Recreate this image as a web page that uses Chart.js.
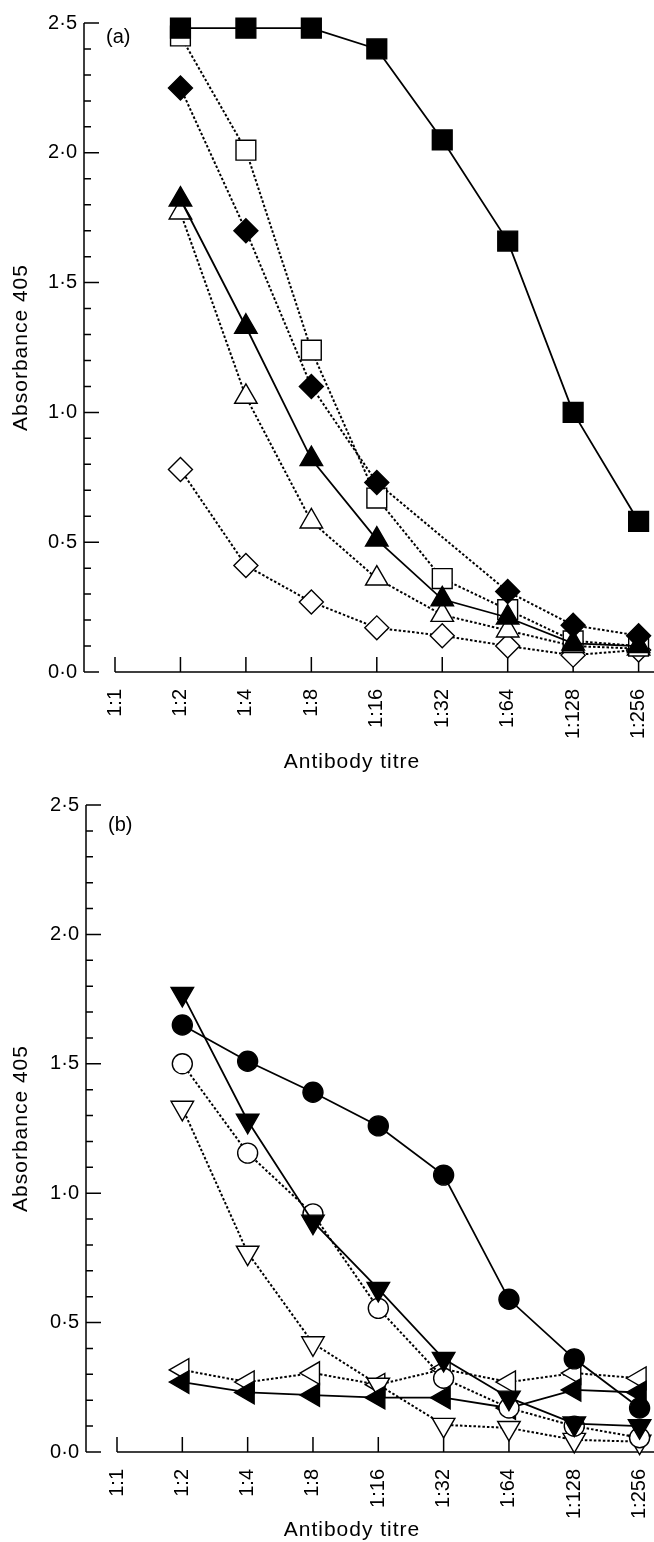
<!DOCTYPE html>
<html>
<head>
<meta charset="utf-8">
<script src="https://cdn.jsdelivr.net/npm/chart.js@4/dist/chart.umd.min.js"></script>
<style>
  body { margin: 0; background: #fff; }
  canvas { display: block; }
</style>
</head>
<body>
<canvas id="chartA" width="654" height="782"></canvas>
<canvas id="chartB" width="654" height="760"></canvas>
<script>
// categories (antibody dilution)
const titres = ['1:1', '1:2', '1:4', '1:8', '1:16', '1:32', '1:64', '1:128', '1:256'];

// panel (a)
const aFilledSquare   = [null, 2.48, 2.48, 2.48, 2.40, 2.05, 1.66, 1.00, 0.58];
const aFilledDiamond  = [null, 2.25, 1.70, 1.10, 0.73, null, 0.31, 0.18, 0.14];
const aFilledTriangle = [null, 1.82, 1.33, 0.82, 0.51, 0.28, 0.21, 0.11, 0.10];
const aOpenSquare     = [null, 2.45, 2.01, 1.24, 0.67, 0.36, 0.24, 0.12, 0.10];
const aOpenTriangle   = [null, 1.77, 1.06, 0.58, 0.36, 0.22, 0.16, 0.10, 0.09];
const aOpenDiamond    = [null, 0.78, 0.41, 0.27, 0.17, 0.14, 0.10, 0.065, 0.085];

// panel (b)
const bFilledCircle = [null, 1.65, 1.51, 1.39, 1.26, 1.07, 0.59, 0.36, 0.17];
const bFilledDown   = [null, 1.77, 1.28, 0.89, 0.63, 0.36, 0.21, 0.11, 0.10];
const bOpenCircle   = [null, 1.50, 1.155, 0.92, 0.555, 0.285, 0.17, 0.10, 0.055];
const bFilledLeft   = [null, 0.27, 0.23, 0.22, 0.21, 0.21, 0.17, 0.24, 0.23];
const bOpenDown     = [null, 1.33, 0.77, 0.42, 0.26, 0.105, 0.093, 0.047, 0.04];
const bOpenLeft     = [null, 0.317, 0.27, 0.305, 0.26, 0.32, 0.27, 0.305, 0.285];

const yLabel = 'Absorbance 405';
const xLabel = 'Antibody titre';

const FONT = '"Liberation Sans", Arial, sans-serif';
Chart.defaults.font.family = FONT;
Chart.defaults.color = '#000';

// marker look: shape, size, filled or open, solid or dotted line
function series(data, shape, filled, solid) {
    const radius = { rect: 14, rectRot: 12, triangle: 13, circle: 10 };
    let style = shape, rotation = 0;
    if (shape === 'down') { style = 'triangle'; rotation = 180; }
    if (shape === 'left') { style = 'triangle'; rotation = 270; }
    return {
        data: data,
        spanGaps: true,
        borderColor: '#000',
        borderWidth: solid ? 1.8 : 2,
        borderDash: solid ? [] : [2.5, 2],
        pointStyle: style,
        pointRotation: rotation,
        pointRadius: radius[style],
        pointHoverRadius: radius[style],
        pointBackgroundColor: filled ? '#000' : '#fff',
        pointBorderColor: '#000',
        pointBorderWidth: 1.4,
        fill: false,
        tension: 0,
        clip: false
    };
}

// axes drawn in the journal style: y axis detached from x axis, inward ticks
const figureAxes = {
    id: 'figureAxes',
    beforeDatasetsDraw(chart, args, opts) {
        const ctx = chart.ctx;
        const x = chart.scales.x, y = chart.scales.y;
        const axisX = chart.chartArea.left - 31;
        const y0 = y.getPixelForValue(0);
        const yTop = y.getPixelForValue(2.5);
        ctx.save();
        ctx.strokeStyle = '#000';
        ctx.lineWidth = 1.5;
        ctx.beginPath();
        ctx.moveTo(axisX, yTop);
        ctx.lineTo(axisX, y0);
        for (let i = 0; i <= 25; i++) {
            const py = y.getPixelForValue(i / 10);
            ctx.moveTo(axisX, py);
            ctx.lineTo(axisX + (i % 5 === 0 ? 15 : 7), py);
        }
        ctx.moveTo(x.getPixelForValue(0), y0);
        ctx.lineTo(chart.width, y0);
        titres.forEach((t, i) => {
            const px = x.getPixelForValue(i);
            ctx.moveTo(px, y0);
            ctx.lineTo(px, y0 - 15);
        });
        ctx.stroke();

        ctx.fillStyle = '#000';
        ctx.textBaseline = 'middle';
        ctx.font = '20px ' + FONT;
        ctx.textAlign = 'left';
        ctx.fillText(opts.tag, axisX + 22, yTop + opts.tagDy);

        ctx.font = '21px ' + FONT;
        ctx.letterSpacing = '1px';
        ctx.textAlign = 'center';
        ctx.fillText(xLabel, opts.titleX, opts.titleY);

        ctx.translate(21, (yTop + y0) / 2);
        ctx.rotate(-Math.PI / 2);
        ctx.fillText(yLabel, 0, 0);
        ctx.restore();
    }
};

function makePanel(id, datasets, o) {
    new Chart(document.getElementById(id), {
        type: 'line',
        data: { labels: titres, datasets: datasets },
        plugins: [figureAxes],
        options: {
            responsive: false,
            animation: false,
            layout: { padding: { top: 23, right: o.right, left: 0, bottom: 0 } },
            plugins: {
                legend: { display: false },
                tooltip: { enabled: false },
                figureAxes: { tag: o.tag, tagDy: o.tagDy, titleX: 352, titleY: o.titleY }
            },
            scales: {
                x: {
                    type: 'category',
                    offset: false,
                    grid: { display: false },
                    border: { display: false },
                    ticks: {
                        autoSkip: false,
                        minRotation: 90,
                        maxRotation: 90,
                        padding: 9,
                        font: { size: 20 }
                    },
                    afterFit(scale) {
                        scale.height = o.xHeight;
                        scale.paddingLeft = 0;
                        scale.paddingRight = 0;
                    }
                },
                y: {
                    min: 0,
                    max: 2.5,
                    grid: { display: false },
                    border: { display: false },
                    ticks: {
                        stepSize: 0.5,
                        padding: 30,
                        font: { size: 20 },
                        callback: v => v.toFixed(1).replace('.', '\u00b7')
                    },
                    afterFit(scale) {
                        scale.width = o.yWidth;
                        scale.paddingTop = 0;
                        scale.paddingBottom = 0;
                    }
                }
            }
        }
    });
}

makePanel('chartA', [
    series(aFilledSquare, 'rect', true, true),
    series(aFilledDiamond, 'rectRot', true, false),
    series(aFilledTriangle, 'triangle', true, true),
    series(aOpenSquare, 'rect', false, false),
    series(aOpenTriangle, 'triangle', false, false),
    series(aOpenDiamond, 'rectRot', false, false)
], { tag: '(a)', tagDy: 14, right: 14, xHeight: 110, yWidth: 115, titleY: 762 });

makePanel('chartB', [
    series(bFilledCircle, 'circle', true, true),
    series(bFilledDown, 'down', true, true),
    series(bOpenCircle, 'circle', false, false),
    series(bFilledLeft, 'left', true, true),
    series(bOpenDown, 'down', false, false),
    series(bOpenLeft, 'left', false, false)
], { tag: '(b)', tagDy: 20, right: 13, xHeight: 90, yWidth: 117, titleY: 748 });
</script>
</body>
</html>
